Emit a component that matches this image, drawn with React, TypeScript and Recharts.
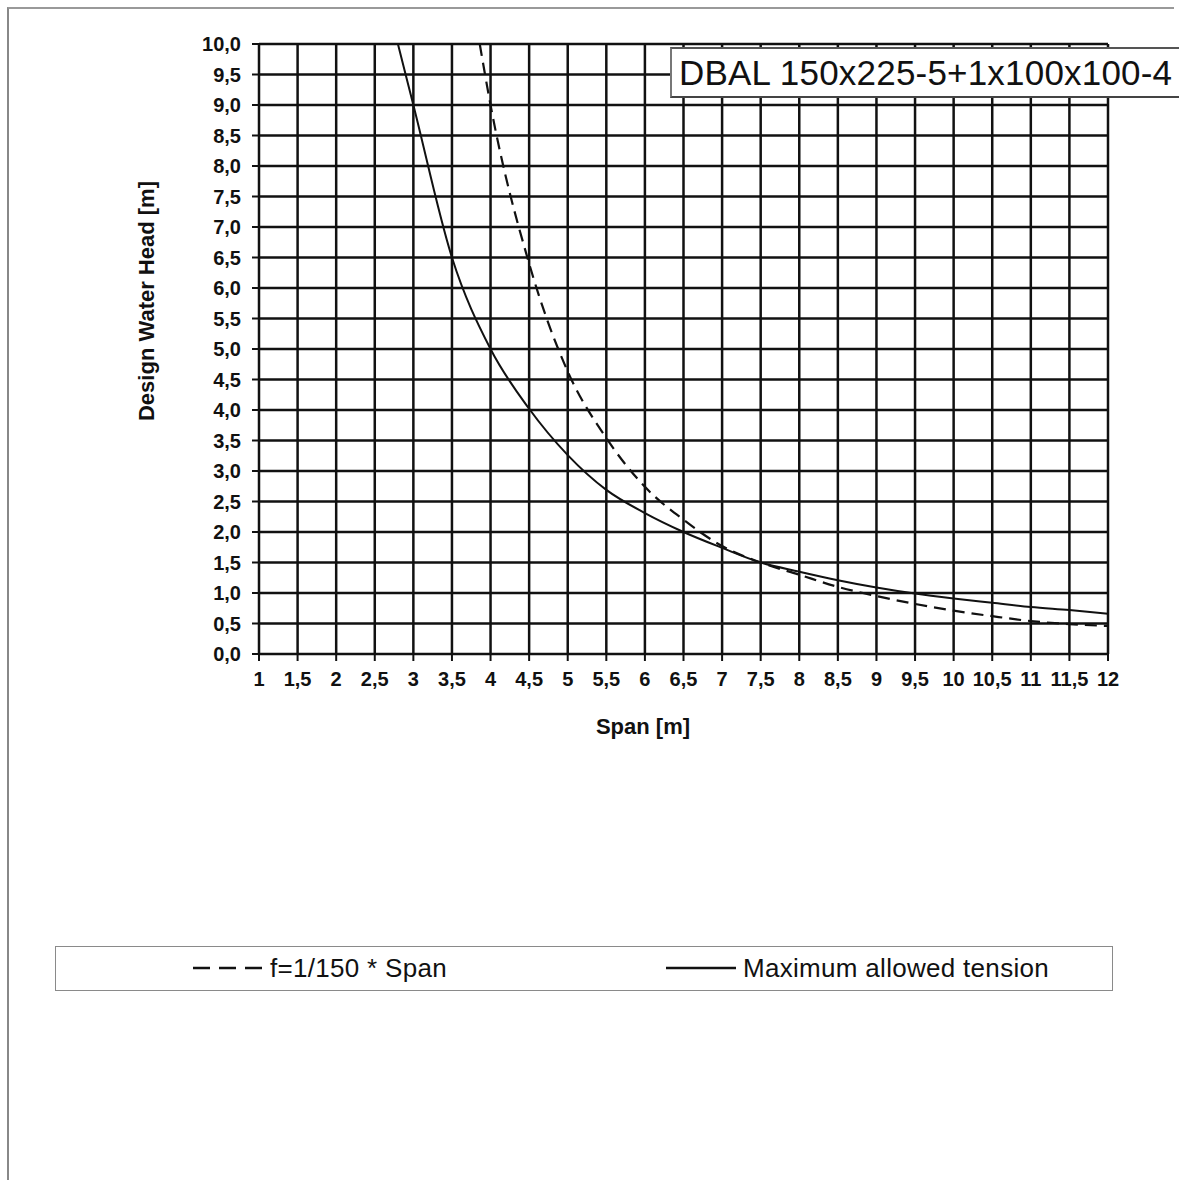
import React from 'react';
import { LineChart, Line, XAxis, YAxis, CartesianGrid, Legend } from 'recharts';

const spanTicks = [1, 1.5, 2, 2.5, 3, 3.5, 4, 4.5, 5, 5.5, 6, 6.5, 7, 7.5, 8, 8.5, 9, 9.5, 10, 10.5, 11, 11.5, 12];
const headTicks = [0, 0.5, 1, 1.5, 2, 2.5, 3, 3.5, 4, 4.5, 5, 5.5, 6, 6.5, 7, 7.5, 8, 8.5, 9, 9.5, 10];

const tensionSpan = [2.8, 3.0, 3.5, 4.0, 4.5, 5.0, 5.5, 6.0, 6.5, 7.0, 7.5, 8.0, 8.5, 9.0, 9.5, 10.0, 10.5, 11.0, 11.5, 12.0];
const tensionHead = [10.0, 9.0, 6.5, 5.0, 4.02, 3.26, 2.69, 2.31, 2.0, 1.74, 1.5, 1.35, 1.21, 1.09, 0.99, 0.91, 0.84, 0.77, 0.72, 0.66];

const deflectionSpan = [3.86, 4.0, 4.5, 5.0, 5.5, 6.0, 6.5, 7.0, 7.5, 8.0, 8.5, 9.0, 9.5, 10.0, 10.5, 11.0, 11.5, 12.0];
const deflectionHead = [10.0, 9.0, 6.4, 4.63, 3.54, 2.74, 2.2, 1.77, 1.5, 1.3, 1.1, 0.95, 0.82, 0.71, 0.62, 0.54, 0.49, 0.46];

const chartTitle = 'DBAL 150x225-5+1x100x100-4';
const deflectionName = 'f=1/150 * Span';
const tensionName = 'Maximum allowed tension';
const legendOrder = [deflectionName, tensionName];

const tensionData = tensionSpan.map((s, i) => ({ span: s, head: tensionHead[i] }));
const deflectionData = deflectionSpan.map((s, i) => ({ span: s, head: deflectionHead[i] }));

const FONT = '"Liberation Sans", Arial, sans-serif';

const fmtY = (v: number) => v.toFixed(1).replace('.', ',');
const fmtX = (v: number) => (Number.isInteger(v) ? String(v) : String(v).replace('.', ','));

const LegendBox = (props: any) => {
  const payload = [...(props.payload || [])].sort(
    (a: any, b: any) => legendOrder.indexOf(a.value) - legendOrder.indexOf(b.value)
  );
  const lefts = [137, 610];
  return (
    <div
      style={{
        position: 'relative',
        width: 1058,
        height: 45,
        boxSizing: 'border-box',
        border: '1.5px solid #8a8a8a',
        background: '#fff',
        fontFamily: FONT,
      }}
    >
      {payload.map((p: any, i: number) => (
        <div
          key={i}
          style={{
            position: 'absolute',
            left: lefts[i],
            top: 0,
            height: 42,
            display: 'flex',
            alignItems: 'center',
            whiteSpace: 'nowrap',
          }}
        >
          <svg width={72} height={10} style={{ marginRight: 5 }}>
            <line
              x1={0}
              y1={5}
              x2={70}
              y2={5}
              stroke="#111"
              strokeWidth={2.5}
              strokeDasharray={p.payload && p.payload.strokeDasharray ? '17 9' : undefined}
            />
          </svg>
          <span style={{ fontSize: 26, color: '#111', letterSpacing: 0.3 }}>{p.value}</span>
        </div>
      ))}
    </div>
  );
};

export default function App() {
  return (
    <div
      style={{
        position: 'absolute',
        left: 0,
        top: 0,
        width: 1179,
        height: 1180,
        background: '#fff',
        fontFamily: FONT,
        overflow: 'hidden',
      }}
    >
      <div
        style={{
          position: 'absolute',
          left: 7,
          top: 7,
          width: 1165,
          height: 1200,
          borderLeft: '2px solid #888',
          borderTop: '2px solid #999',
        }}
      />
      <div style={{ position: 'absolute', left: 0, top: 0 }}>
        <LineChart
          width={1179}
          height={1180}
          margin={{ top: 44, right: 71, bottom: 421, left: 159 }}
        >
          <CartesianGrid stroke="#111" strokeWidth={2.5} />
          <XAxis
            dataKey="span"
            type="number"
            domain={[1, 12]}
            ticks={spanTicks}
            interval={0}
            tickFormatter={fmtX}
            height={60}
            tickSize={7}
            tickMargin={11}
            stroke="#111"
            strokeWidth={2}
            allowDuplicatedCategory={false}
            tick={{ fill: '#111', fontSize: 20, fontWeight: 700, fontFamily: FONT }}
            label={(props: any) => (
              <text
                x={643}
                y={734}
                textAnchor="middle"
                fontFamily={FONT}
                fontWeight={700}
                fontSize={22}
                fill="#111"
              >
                Span [m]
              </text>
            )}
          />
          <YAxis
            dataKey="head"
            type="number"
            domain={[0, 10]}
            ticks={headTicks}
            interval={0}
            tickFormatter={fmtY}
            width={100}
            tickSize={7}
            tickMargin={11}
            stroke="#111"
            strokeWidth={2}
            tick={{ fill: '#111', fontSize: 20, fontWeight: 700, fontFamily: FONT }}
            label={(props: any) => (
              <text
                x={154}
                y={301}
                transform="rotate(-90 154 301)"
                textAnchor="middle"
                fontFamily={FONT}
                fontWeight={700}
                fontSize={22}
                fill="#111"
              >
                Design Water Head [m]
              </text>
            )}
          />
          <Legend
            content={<LegendBox />}
            wrapperStyle={{ position: 'absolute', left: 55, top: 946, width: 1058, height: 45 }}
          />
          <Line
            data={deflectionData}
            dataKey="head"
            name={deflectionName}
            type="monotone"
            stroke="#111"
            strokeWidth={2.2}
            strokeDasharray="12 7"
            dot={false}
            activeDot={false}
            isAnimationActive={false}
          />
          <Line
            data={tensionData}
            dataKey="head"
            name={tensionName}
            type="monotone"
            stroke="#111"
            strokeWidth={2}
            dot={false}
            activeDot={false}
            isAnimationActive={false}
          />
        </LineChart>
      </div>
      <div
        style={{
          position: 'absolute',
          left: 670,
          top: 47,
          width: 530,
          height: 51,
          boxSizing: 'border-box',
          borderTop: '2px solid #555',
          borderLeft: '2px solid #777',
          borderBottom: '2px solid #444',
          background: '#fff',
          paddingLeft: 7,
          fontSize: 35,
          letterSpacing: 0.2,
          lineHeight: '47px',
          color: '#111',
          whiteSpace: 'nowrap',
        }}
      >
        {chartTitle}
      </div>
    </div>
  );
}
